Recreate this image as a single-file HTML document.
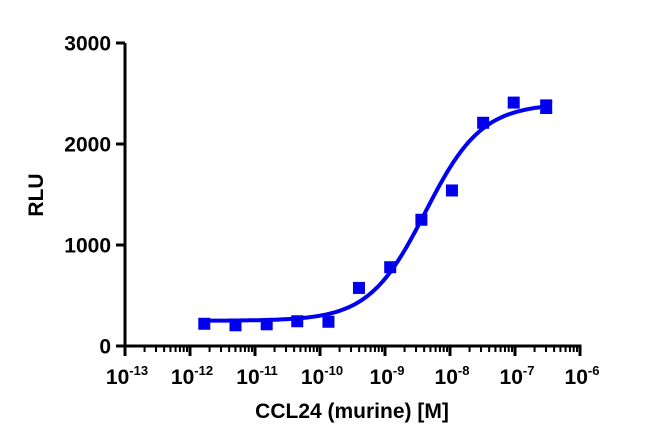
<!DOCTYPE html>
<html><head><meta charset="utf-8"><style>
body{margin:0;background:#fff}
svg text{font-family:"Liberation Sans",Arial,sans-serif;font-weight:bold;fill:#000}
</style></head><body>
<svg id="c" width="650" height="442" xmlns="http://www.w3.org/2000/svg"></svg>
<script>
const logConc = [-11.78,-11.30,-10.82,-10.35,-9.87,-9.40,-8.92,-8.44,-7.97,-7.49,-7.02,-6.52];
const rlu = [220,205,215,245,240,575,780,1250,1540,2210,2410,2370];
const errs = [0,0,0,0,0,0,0,0,0,0,0,60];
const fitBottom = 250, fitTop = 2400, fitLogEC50 = -8.38, fitHill = 1.0;
const xTicks = [-13,-12,-11,-10,-9,-8,-7,-6];
const yTicks = [0,1000,2000,3000];

const NS="http://www.w3.org/2000/svg";
const svg=document.getElementById('c');
const X=v=>125+(v+13)*65;
const Y=v=>346-v*0.101;
function mk(t,a,p){const e=document.createElementNS(NS,t);for(const k in a)e.setAttribute(k,a[k]);(p||svg).appendChild(e);return e;}

const axes=mk('g',{});


const ya=mk('line',{x1:125,y1:Y(3000),x2:125,y2:Y(0)+1.5,stroke:'#000','stroke-width':3},axes);


const xa=mk('line',{x1:123.5,y1:346,x2:X(-6)+1.5,y2:346,stroke:'#000','stroke-width':3},axes);


yTicks.forEach(v=>{
  mk('line',{x1:116,y1:Y(v),x2:125,y2:Y(v),stroke:'#000','stroke-width':3},axes);
  const t=mk('text',{x:111,y:Y(v)+7.5,'text-anchor':'end','font-size':21},axes);
  t.textContent=v;
  
  
});
xTicks.forEach((d,i)=>{
  mk('line',{x1:X(d),y1:346,x2:X(d),y2:356,stroke:'#000','stroke-width':3},axes);
  if(i<xTicks.length-1){for(let m=2;m<10;m++){const xx=X(d+Math.log10(m));mk('line',{x1:xx,y1:346,x2:xx,y2:352,stroke:'#000','stroke-width':2},axes);}}
  const t=mk('text',{x:X(d)+2,y:384,'text-anchor':'middle','font-size':21},axes);
  t.innerHTML='10<tspan dy="-9" font-size="13">'+d+'</tspan>';
  
  
});
const yt=mk('text',{x:0,y:0,'text-anchor':'middle','font-size':21,transform:'translate(43,195) rotate(-90)'});
yt.textContent='RLU';


const xt=mk('text',{x:352,y:418,'text-anchor':'middle','font-size':21});
xt.textContent='CCL24 (murine) [M]';



let d='';
for(let l=logConc[0];l<=logConc[logConc.length-1]+0.001;l+=0.02){
  const v=fitBottom+(fitTop-fitBottom)/(1+Math.pow(10,(fitLogEC50-l)*fitHill));
  d+=(d?'L':'M')+X(l).toFixed(1)+','+Y(v).toFixed(1);
}
const curve=mk('path',{d:d,fill:'none',stroke:'#0000ee','stroke-width':4});



logConc.forEach((l,i)=>{
  const cx=X(l),cy=Y(rlu[i]);
  if(errs[i]){
    mk('path',{d:`M${cx},${Y(rlu[i]+errs[i])}V${Y(rlu[i]-errs[i])}M${cx-6},${Y(rlu[i]+errs[i])}h12M${cx-6},${Y(rlu[i]-errs[i])}h12`,stroke:'#0000ee','stroke-width':2.5});
  }
  const r=mk('rect',{x:cx-6,y:cy-6,width:12,height:12,fill:'#0000ee'});
  
  
});
</script>
</body></html>
